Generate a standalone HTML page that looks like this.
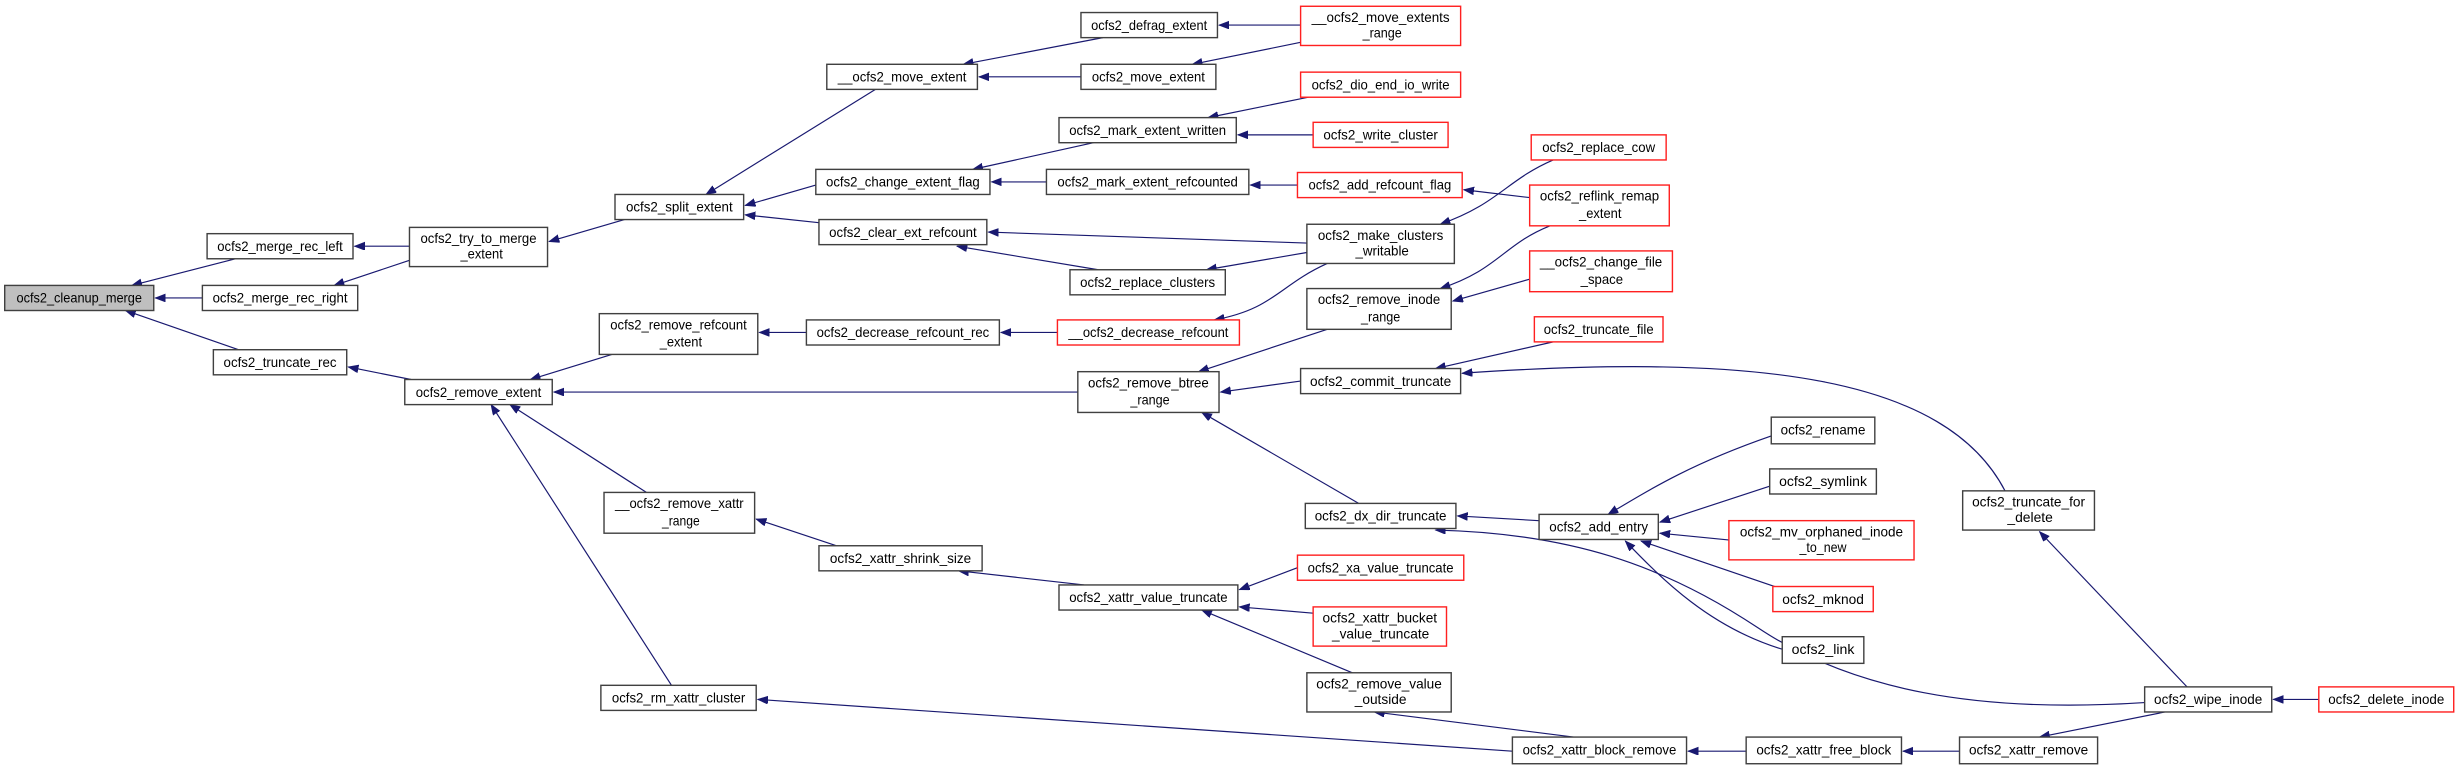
<!DOCTYPE html>
<html><head><meta charset="utf-8"><style>
html,body{margin:0;padding:0;background:#fff;}
svg{display:block;}
text{font-family:"Liberation Sans",sans-serif;font-size:8.6px;fill:#000;text-anchor:middle;}
.n{fill:#fff;stroke:#404040;stroke-width:0.9;}
.r{fill:#fff;stroke:#ff2020;stroke-width:0.9;}
.g{fill:#bfbfbf;stroke:#404040;stroke-width:0.9;}
.e{fill:none;stroke:#191970;stroke-width:0.75;marker-end:url(#a);}
</style></head><body>
<svg width="2460" height="770" viewBox="0 0 1568 491" preserveAspectRatio="none" xmlns="http://www.w3.org/2000/svg">
<defs><marker id="a" markerUnits="userSpaceOnUse" markerWidth="8" markerHeight="6" refX="6.5" refY="2.5" orient="auto"><path d="M0,0 L6.5,2.5 L0,5 z" fill="#191970" stroke="#191970" stroke-width="0.5"/></marker></defs>

<!-- edges -->
<path class="e" d="M150,165 L84,182"/>
<path class="e" d="M129,190 L99,190"/>
<path class="e" d="M152,223 L80,198"/>
<path class="e" d="M261,157 L226,157"/>
<path class="e" d="M261,166 L213,182"/>
<path class="e" d="M262,242 L222,234"/>
<path class="e" d="M398,140 L350,154"/>
<path class="e" d="M390,226 L338,242"/>
<path class="e" d="M412,314 L325,258"/>
<path class="e" d="M428,437 L313,258"/>
<path class="e" d="M687,250 L353,250"/>
<path class="e" d="M558,57 L450,124"/>
<path class="e" d="M520,118 L475,131"/>
<path class="e" d="M522,142 L475,137"/>
<path class="e" d="M514,212 L484,212"/>
<path class="e" d="M533,348 L482,331"/>
<path class="e" d="M964,479 L483,446"/>
<path class="e" d="M703,24 L614,41"/>
<path class="e" d="M689,49 L624,49"/>
<path class="e" d="M697,91 L620,108"/>
<path class="e" d="M667,116 L632,116"/>
<path class="e" d="M833,155 L630,148"/>
<path class="e" d="M700,172 L610,157"/>
<path class="e" d="M674,212 L638,212"/>
<path class="e" d="M691,373 L611,364"/>
<path class="e" d="M829,16 L777,16"/>
<path class="e" d="M829,27 L760,41"/>
<path class="e" d="M834,62 L770,75"/>
<path class="e" d="M837,86 L789,86"/>
<path class="e" d="M827,118 L797,118"/>
<path class="e" d="M833,161 L769,172"/>
<path class="e" d="M846,168 C815,182 812,197 774,204"/>
<path class="e" d="M846,210 L764,237"/>
<path class="e" d="M829,243 L778,250"/>
<path class="e" d="M866,321 L766,263"/>
<path class="e" d="M827,362 L790,376"/>
<path class="e" d="M837,391 L790,387"/>
<path class="e" d="M862,429 L766,389"/>
<path class="e" d="M1003,470 L876,454"/>
<path class="e" d="M990,102 C960,115 955,130 918,143"/>
<path class="e" d="M975,126 L933,121"/>
<path class="e" d="M988,144 C958,156 955,172 918,184"/>
<path class="e" d="M975,178 L926,192"/>
<path class="e" d="M990,218 L915,235"/>
<path class="e" d="M1278,313 C1240,240 1120,225 932,238"/>
<path class="e" d="M981,332 L929,329"/>
<path class="e" d="M1367,448 C1260,455 1180,440 1120,400 C1060,360 1000,340 915,338"/>
<path class="e" d="M1129,278 C1080,295 1055,310 1025,328"/>
<path class="e" d="M1128,310 L1058,333"/>
<path class="e" d="M1109,345 L1058,340"/>
<path class="e" d="M1134,375 L1046,345"/>
<path class="e" d="M1136,414 C1090,400 1060,370 1036,345"/>
<path class="e" d="M1113,479 L1076,479"/>
<path class="e" d="M1249,479 L1213,479"/>
<path class="e" d="M1380,454 L1300,470"/>
<path class="e" d="M1394,438 L1300,339"/>
<path class="e" d="M1478,446 L1449,446"/>

<!-- nodes -->
<rect class="g" x="3" y="182" width="95" height="16"/><text x="50.5" y="193" textLength="80" lengthAdjust="spacingAndGlyphs">ocfs2_cleanup_merge</text>
<rect class="n" x="132" y="149" width="93" height="16"/><text x="178.5" y="160" textLength="80" lengthAdjust="spacingAndGlyphs">ocfs2_merge_rec_left</text>
<rect class="n" x="129" y="182" width="99" height="16"/><text x="178.5" y="193" textLength="86" lengthAdjust="spacingAndGlyphs">ocfs2_merge_rec_right</text>
<rect class="n" x="136" y="223" width="85" height="16"/><text x="178.5" y="234" textLength="72" lengthAdjust="spacingAndGlyphs">ocfs2_truncate_rec</text>
<rect class="n" x="261" y="145" width="88" height="25"/><text x="305" y="155" textLength="74" lengthAdjust="spacingAndGlyphs">ocfs2_try_to_merge</text><text x="307" y="165" textLength="27" lengthAdjust="spacingAndGlyphs">_extent</text>
<rect class="n" x="258" y="242" width="94" height="16"/><text x="305" y="253" textLength="80" lengthAdjust="spacingAndGlyphs">ocfs2_remove_extent</text>
<rect class="n" x="392" y="124" width="82" height="16"/><text x="433" y="135" textLength="68" lengthAdjust="spacingAndGlyphs">ocfs2_split_extent</text>
<rect class="n" x="382" y="200" width="101" height="26"/><text x="432.5" y="210" textLength="87" lengthAdjust="spacingAndGlyphs">ocfs2_remove_refcount</text><text x="434" y="221" textLength="27" lengthAdjust="spacingAndGlyphs">_extent</text>
<rect class="n" x="385" y="314" width="96" height="26"/><text x="433" y="324" textLength="82" lengthAdjust="spacingAndGlyphs">__ocfs2_remove_xattr</text><text x="434" y="335" textLength="24" lengthAdjust="spacingAndGlyphs">_range</text>
<rect class="n" x="383" y="437" width="99" height="16"/><text x="432.5" y="448" textLength="85" lengthAdjust="spacingAndGlyphs">ocfs2_rm_xattr_cluster</text>
<rect class="n" x="527" y="41" width="96" height="16"/><text x="575" y="52" textLength="82" lengthAdjust="spacingAndGlyphs">__ocfs2_move_extent</text>
<rect class="n" x="520" y="108" width="111" height="16"/><text x="575.5" y="119" textLength="98" lengthAdjust="spacingAndGlyphs">ocfs2_change_extent_flag</text>
<rect class="n" x="522" y="140" width="107" height="16"/><text x="575.5" y="151" textLength="94" lengthAdjust="spacingAndGlyphs">ocfs2_clear_ext_refcount</text>
<rect class="n" x="514" y="204" width="123" height="16"/><text x="575.5" y="215" textLength="110" lengthAdjust="spacingAndGlyphs">ocfs2_decrease_refcount_rec</text>
<rect class="n" x="522" y="348" width="104" height="16"/><text x="574" y="359" textLength="90" lengthAdjust="spacingAndGlyphs">ocfs2_xattr_shrink_size</text>
<rect class="n" x="689" y="8" width="87" height="16"/><text x="732.5" y="19" textLength="74" lengthAdjust="spacingAndGlyphs">ocfs2_defrag_extent</text>
<rect class="n" x="689" y="41" width="86" height="16"/><text x="732" y="52" textLength="72" lengthAdjust="spacingAndGlyphs">ocfs2_move_extent</text>
<rect class="n" x="675" y="75" width="113" height="16"/><text x="731.5" y="86" textLength="100" lengthAdjust="spacingAndGlyphs">ocfs2_mark_extent_written</text>
<rect class="n" x="667" y="108" width="129" height="16"/><text x="731.5" y="119" textLength="115" lengthAdjust="spacingAndGlyphs">ocfs2_mark_extent_refcounted</text>
<rect class="n" x="682" y="172" width="99" height="16"/><text x="731.5" y="183" textLength="86" lengthAdjust="spacingAndGlyphs">ocfs2_replace_clusters</text>
<rect class="r" x="674" y="204" width="116" height="16"/><text x="732" y="215" textLength="102" lengthAdjust="spacingAndGlyphs">__ocfs2_decrease_refcount</text>
<rect class="n" x="687" y="237" width="90" height="26"/><text x="732" y="247" textLength="77" lengthAdjust="spacingAndGlyphs">ocfs2_remove_btree</text><text x="733" y="258" textLength="25" lengthAdjust="spacingAndGlyphs">_range</text>
<rect class="n" x="675" y="373" width="114" height="16"/><text x="732" y="384" textLength="101" lengthAdjust="spacingAndGlyphs">ocfs2_xattr_value_truncate</text>
<rect class="n" x="832" y="321" width="96" height="16"/><text x="880" y="332" textLength="84" lengthAdjust="spacingAndGlyphs">ocfs2_dx_dir_truncate</text>
<rect class="r" x="827" y="354" width="106" height="16"/><text x="880" y="365" textLength="93" lengthAdjust="spacingAndGlyphs">ocfs2_xa_value_truncate</text>
<rect class="r" x="837" y="387" width="85" height="25"/><text x="879.5" y="397" textLength="73" lengthAdjust="spacingAndGlyphs">ocfs2_xattr_bucket</text><text x="880" y="407" textLength="62" lengthAdjust="spacingAndGlyphs">_value_truncate</text>
<rect class="n" x="833" y="429" width="92" height="25"/><text x="879" y="439" textLength="80" lengthAdjust="spacingAndGlyphs">ocfs2_remove_value</text><text x="880" y="449" textLength="33" lengthAdjust="spacingAndGlyphs">_outside</text>
<rect class="n" x="964" y="470" width="111" height="17"/><text x="1019.5" y="481" textLength="98" lengthAdjust="spacingAndGlyphs">ocfs2_xattr_block_remove</text>
<rect class="r" x="829" y="4" width="102" height="25"/><text x="880" y="14" textLength="88" lengthAdjust="spacingAndGlyphs">__ocfs2_move_extents</text><text x="881" y="24" textLength="25" lengthAdjust="spacingAndGlyphs">_range</text>
<rect class="r" x="829" y="46" width="102" height="16"/><text x="880" y="57" textLength="88" lengthAdjust="spacingAndGlyphs">ocfs2_dio_end_io_write</text>
<rect class="r" x="837" y="78" width="86" height="16"/><text x="880" y="89" textLength="73" lengthAdjust="spacingAndGlyphs">ocfs2_write_cluster</text>
<rect class="r" x="827" y="110" width="105" height="16"/><text x="879.5" y="121" textLength="91" lengthAdjust="spacingAndGlyphs">ocfs2_add_refcount_flag</text>
<rect class="n" x="833" y="143" width="94" height="25"/><text x="880" y="153" textLength="80" lengthAdjust="spacingAndGlyphs">ocfs2_make_clusters</text><text x="881" y="163" textLength="34" lengthAdjust="spacingAndGlyphs">_writable</text>
<rect class="n" x="833" y="184" width="92" height="26"/><text x="879" y="194" textLength="78" lengthAdjust="spacingAndGlyphs">ocfs2_remove_inode</text><text x="880" y="205" textLength="25" lengthAdjust="spacingAndGlyphs">_range</text>
<rect class="n" x="829" y="235" width="102" height="16"/><text x="880" y="246" textLength="90" lengthAdjust="spacingAndGlyphs">ocfs2_commit_truncate</text>
<rect class="n" x="981" y="328" width="76" height="16"/><text x="1019" y="339" textLength="63" lengthAdjust="spacingAndGlyphs">ocfs2_add_entry</text>
<rect class="r" x="976" y="86" width="86" height="16"/><text x="1019" y="97" textLength="72" lengthAdjust="spacingAndGlyphs">ocfs2_replace_cow</text>
<rect class="r" x="975" y="118" width="89" height="26"/><text x="1019.5" y="128" textLength="76" lengthAdjust="spacingAndGlyphs">ocfs2_reflink_remap</text><text x="1020" y="139" textLength="27" lengthAdjust="spacingAndGlyphs">_extent</text>
<rect class="r" x="975" y="160" width="91" height="26"/><text x="1020.5" y="170" textLength="78" lengthAdjust="spacingAndGlyphs">__ocfs2_change_file</text><text x="1021" y="181" textLength="27" lengthAdjust="spacingAndGlyphs">_space</text>
<rect class="r" x="978" y="202" width="82" height="16"/><text x="1019" y="213" textLength="70" lengthAdjust="spacingAndGlyphs">ocfs2_truncate_file</text>
<rect class="n" x="1129" y="266" width="66" height="17"/><text x="1162" y="277" textLength="54" lengthAdjust="spacingAndGlyphs">ocfs2_rename</text>
<rect class="n" x="1128" y="299" width="68" height="16"/><text x="1162" y="310" textLength="56" lengthAdjust="spacingAndGlyphs">ocfs2_symlink</text>
<rect class="r" x="1102" y="332" width="118" height="25"/><text x="1161" y="342" textLength="104" lengthAdjust="spacingAndGlyphs">ocfs2_mv_orphaned_inode</text><text x="1162" y="352" textLength="30" lengthAdjust="spacingAndGlyphs">_to_new</text>
<rect class="r" x="1130" y="374" width="64" height="16"/><text x="1162" y="385" textLength="52" lengthAdjust="spacingAndGlyphs">ocfs2_mknod</text>
<rect class="n" x="1136" y="406" width="52" height="17"/><text x="1162" y="417" textLength="40" lengthAdjust="spacingAndGlyphs">ocfs2_link</text>
<rect class="n" x="1251" y="313" width="84" height="25"/><text x="1293" y="323" textLength="72" lengthAdjust="spacingAndGlyphs">ocfs2_truncate_for</text><text x="1294" y="333" textLength="29" lengthAdjust="spacingAndGlyphs">_delete</text>
<rect class="n" x="1367" y="438" width="81" height="16"/><text x="1407.5" y="449" textLength="69" lengthAdjust="spacingAndGlyphs">ocfs2_wipe_inode</text>
<rect class="r" x="1478" y="438" width="86" height="16"/><text x="1521" y="449" textLength="74" lengthAdjust="spacingAndGlyphs">ocfs2_delete_inode</text>
<rect class="n" x="1113" y="470" width="99" height="17"/><text x="1162.5" y="481" textLength="86" lengthAdjust="spacingAndGlyphs">ocfs2_xattr_free_block</text>
<rect class="n" x="1249" y="470" width="88" height="17"/><text x="1293" y="481" textLength="76" lengthAdjust="spacingAndGlyphs">ocfs2_xattr_remove</text>
</svg>
</body></html>
